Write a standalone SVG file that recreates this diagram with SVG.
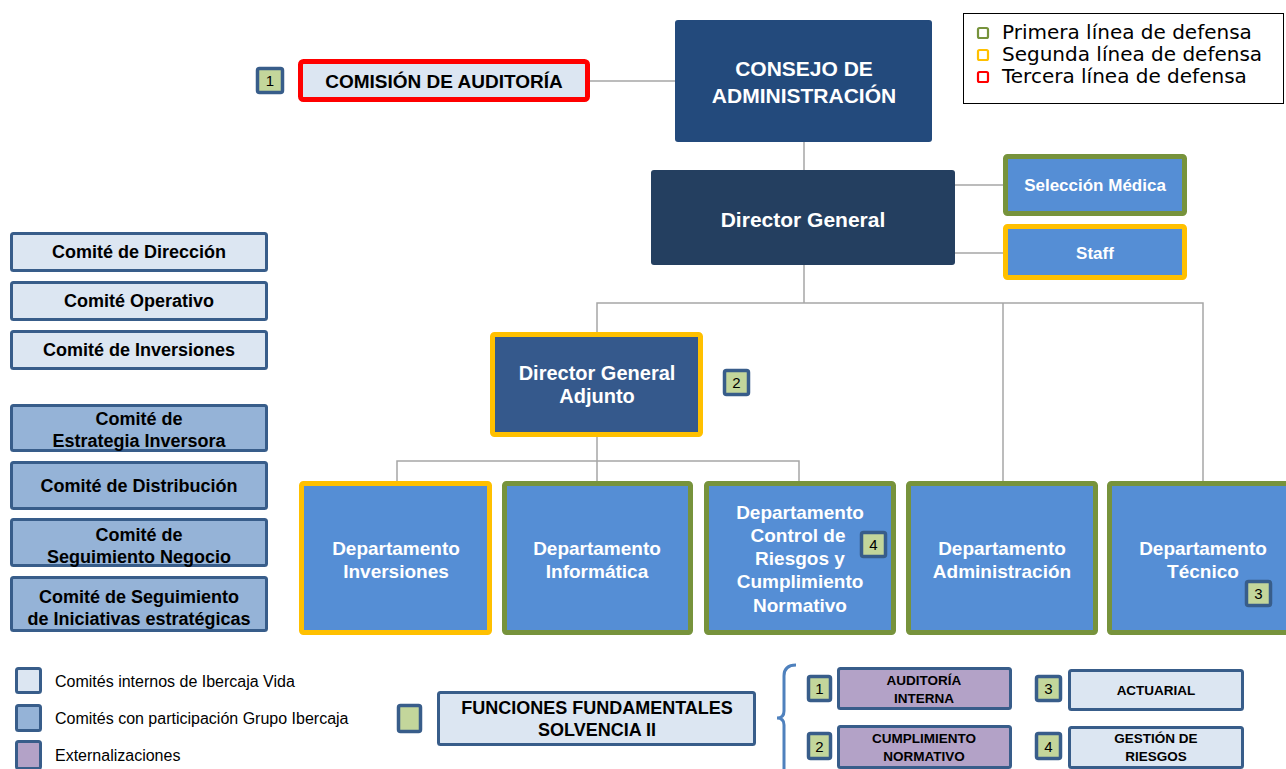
<svg xmlns="http://www.w3.org/2000/svg" width="1286" height="769" viewBox="0 0 1286 769">
<style>
text{font-family:"Liberation Sans",Arial,sans-serif;text-anchor:middle}
.b{font-weight:bold}
.w{fill:#ffffff;font-weight:bold}
.c1{fill:#DCE6F2;stroke:#385D8A;stroke-width:3}
.c2{fill:#95B3D7;stroke:#385D8A;stroke-width:3}
.c3{fill:#B3A2C7;stroke:#385D8A;stroke-width:3}
.bd{fill:#C3D69B;stroke:#385D8A;stroke-width:3.5}
.dept{fill:#558ED5;stroke-width:5}
.g{stroke:#77933C}
.y{stroke:#FFC000}
.con line,.con polyline{stroke:#A6A6A6;stroke-width:1.5;fill:none}
.lg{font-family:"DejaVu Sans",Verdana,sans-serif;text-anchor:start;font-size:20px}
.lt{text-anchor:start;font-size:16px}
.n{font-size:15px}
.sm{font-size:13.5px;font-weight:bold}
.cm{font-size:18px;font-weight:bold}
</style>

<g class="con" id="connectors">
<line x1="590" y1="81" x2="675" y2="81"/>
<line x1="804" y1="142" x2="804" y2="170"/>
<line x1="955" y1="185" x2="1003" y2="185"/>
<line x1="955" y1="253" x2="1003" y2="253"/>
<line x1="804" y1="265" x2="804" y2="303"/>
<polyline points="597,332 597,303 1203,303 1203,481"/>
<line x1="1003" y1="303" x2="1003" y2="481"/>
<line x1="597" y1="437" x2="597" y2="461"/>
<polyline points="397,481 397,461 799,461 799,481"/>
<line x1="597" y1="461" x2="597" y2="481"/>
</g>

<g id="badge1top"><rect class="bd" x="257.5" y="68.5" width="25" height="24" rx="2"/><text class="n" x="270" y="86">1</text></g>
<g id="comision"><rect x="300.5" y="61.5" width="287" height="38" rx="3" fill="#DCE6F2" stroke="#FF0000" stroke-width="5"/><text class="b" x="444" y="88" font-size="19">COMISIÓN DE AUDITORÍA</text></g>

<g id="consejo"><rect x="675" y="20" width="257" height="122" rx="3" fill="#234A7C"/><text class="w" x="804" y="76" font-size="21">CONSEJO DE</text><text class="w" x="804" y="103" font-size="21">ADMINISTRACIÓN</text></g>

<g id="legend-lines">
<rect x="963.5" y="13.5" width="320" height="90" fill="#ffffff" stroke="#000000" stroke-width="1"/>
<rect x="978" y="28" width="10" height="10" rx="1.5" fill="#ffffff" stroke="#77933C" stroke-width="2.2"/>
<rect x="978" y="50" width="10" height="10" rx="1.5" fill="#ffffff" stroke="#FFC000" stroke-width="2.2"/>
<rect x="978" y="72" width="10" height="10" rx="1.5" fill="#ffffff" stroke="#FF0000" stroke-width="2.2"/>
<text class="lg" x="1002" y="39">Primera línea de defensa</text>
<text class="lg" x="1002" y="61">Segunda línea de defensa</text>
<text class="lg" x="1002" y="83">Tercera línea de defensa</text>
</g>

<g id="director-general"><rect x="651" y="170" width="304" height="95" rx="3" fill="#243F60"/><text class="w" x="803" y="227" font-size="21">Director General</text></g>
<g id="seleccion"><rect class="dept g" x="1005.5" y="156.5" width="179" height="57" rx="2"/><text class="w" x="1095" y="191" font-size="17">Selección Médica</text></g>
<g id="staff"><rect class="dept y" x="1005.5" y="226.5" width="179" height="51" rx="2"/><text class="w" x="1095" y="259" font-size="17">Staff</text></g>

<g id="dga"><rect x="492.5" y="334.5" width="208" height="100" rx="2" fill="#35598C" stroke="#FFC000" stroke-width="5"/><text class="w" x="597" y="380" font-size="20">Director General</text><text class="w" x="597" y="403" font-size="20">Adjunto</text></g>
<g id="badge2"><rect class="bd" x="724.5" y="370.5" width="24" height="24" rx="2"/><text class="n" x="736.5" y="388">2</text></g>

<g id="dep-inversiones"><rect class="dept y" x="301.5" y="483.5" width="188" height="149" rx="2"/><text class="w" x="396" y="555" font-size="19">Departamento</text><text class="w" x="396" y="578" font-size="19">Inversiones</text></g>
<g id="dep-informatica"><rect class="dept g" x="504.5" y="483.5" width="186" height="149" rx="2"/><text class="w" x="597" y="555" font-size="19">Departamento</text><text class="w" x="597" y="578" font-size="19">Informática</text></g>
<g id="dep-control"><rect class="dept g" x="706.5" y="483.5" width="187" height="149" rx="2"/>
<text class="w" x="800" y="519" font-size="19">Departamento</text>
<text class="w" x="798" y="542" font-size="19">Control de</text>
<text class="w" x="800" y="565" font-size="19">Riesgos y</text>
<text class="w" x="800" y="588" font-size="19">Cumplimiento</text>
<text class="w" x="800" y="612" font-size="19">Normativo</text></g>
<g id="badge4"><rect class="bd" x="861.5" y="532.5" width="24" height="24" rx="2"/><text class="n" x="873.5" y="550">4</text></g>
<g id="dep-administracion"><rect class="dept g" x="908.5" y="483.5" width="187" height="149" rx="2"/><text class="w" x="1002" y="555" font-size="19">Departamento</text><text class="w" x="1002" y="578" font-size="19">Administración</text></g>
<g id="dep-tecnico"><rect class="dept g" x="1109.5" y="483.5" width="182" height="149" rx="2"/><text class="w" x="1203" y="555" font-size="19">Departamento</text><text class="w" x="1203" y="578" font-size="19">Técnico</text></g>
<g id="badge3"><rect class="bd" x="1246.5" y="581.5" width="24" height="24" rx="2"/><text class="n" x="1258.5" y="599">3</text></g>

<g id="comite-direccion"><rect class="c1" x="11.5" y="233.5" width="255" height="37" rx="2"/><text class="cm" x="139" y="258">Comité de Dirección</text></g>
<g id="comite-operativo"><rect class="c1" x="11.5" y="282.5" width="255" height="37" rx="2"/><text class="cm" x="139" y="307">Comité Operativo</text></g>
<g id="comite-inversiones"><rect class="c1" x="11.5" y="331.5" width="255" height="37" rx="2"/><text class="cm" x="139" y="356">Comité de Inversiones</text></g>
<g id="comite-estrategia"><rect class="c2" x="11.5" y="405.5" width="255" height="45" rx="2"/><text class="cm" x="139" y="425">Comité de</text><text class="cm" x="139" y="447">Estrategia Inversora</text></g>
<g id="comite-distribucion"><rect class="c2" x="11.5" y="462.5" width="255" height="46" rx="2"/><text class="cm" x="139" y="492">Comité de Distribución</text></g>
<g id="comite-seguimiento"><rect class="c2" x="11.5" y="519.5" width="255" height="46" rx="2"/><text class="cm" x="139" y="541">Comité de</text><text class="cm" x="139" y="563">Seguimiento Negocio</text></g>
<g id="comite-iniciativas"><rect class="c2" x="11.5" y="577.5" width="255" height="53" rx="2"/><text class="cm" x="139" y="603">Comité de Seguimiento</text><text class="cm" x="139" y="625">de Iniciativas estratégicas</text></g>

<g id="legend-bottom">
<rect class="c1" x="16.5" y="668.5" width="24" height="24" rx="2"/>
<rect class="c2" x="16.5" y="705.5" width="24" height="25" rx="2"/>
<rect class="c3" x="16.5" y="741.5" width="24" height="27" rx="2"/>
<text class="lt" x="55" y="687">Comités internos de Ibercaja Vida</text>
<text class="lt" x="55" y="724">Comités con participación Grupo Ibercaja</text>
<text class="lt" x="55" y="761">Externalizaciones</text>
</g>

<g id="badge-funciones"><rect class="bd" x="398.5" y="705.5" width="22" height="26" rx="2"/></g>
<g id="funciones"><rect class="c1" x="438.5" y="692.5" width="316" height="52" rx="2"/><text class="b" x="597" y="714" font-size="18">FUNCIONES FUNDAMENTALES</text><text class="b" x="597" y="736" font-size="18">SOLVENCIA II</text></g>

<path d="M796,665 Q784,665 784,676 L784,711 Q784,718 777,718 Q784,718 784,725 L784,769" fill="none" stroke="#4F81BD" stroke-width="3"/>

<g id="f1"><rect class="bd" x="808.5" y="676.5" width="22" height="24" rx="2"/><text class="n" x="819.5" y="694">1</text>
<rect class="c3" x="838.5" y="668.5" width="172" height="40" rx="2"/><text class="sm" x="924" y="685">AUDITORÍA</text><text class="sm" x="924" y="703">INTERNA</text></g>
<g id="f2"><rect class="bd" x="808.5" y="733.5" width="22" height="25" rx="2"/><text class="n" x="819.5" y="752">2</text>
<rect class="c3" x="838.5" y="726.5" width="172" height="41" rx="2"/><text class="sm" x="924" y="743">CUMPLIMIENTO</text><text class="sm" x="924" y="761">NORMATIVO</text></g>
<g id="f3"><rect class="bd" x="1036.5" y="676.5" width="24" height="24" rx="2"/><text class="n" x="1048.5" y="694">3</text>
<rect class="c1" x="1069.5" y="670.5" width="173" height="39" rx="2"/><text class="sm" x="1156" y="695">ACTUARIAL</text></g>
<g id="f4"><rect class="bd" x="1036.5" y="733.5" width="24" height="25" rx="2"/><text class="n" x="1048.5" y="752">4</text>
<rect class="c1" x="1069.5" y="727.5" width="173" height="40" rx="2"/><text class="sm" x="1156" y="743">GESTIÓN DE</text><text class="sm" x="1156" y="761">RIESGOS</text></g>
</svg>
